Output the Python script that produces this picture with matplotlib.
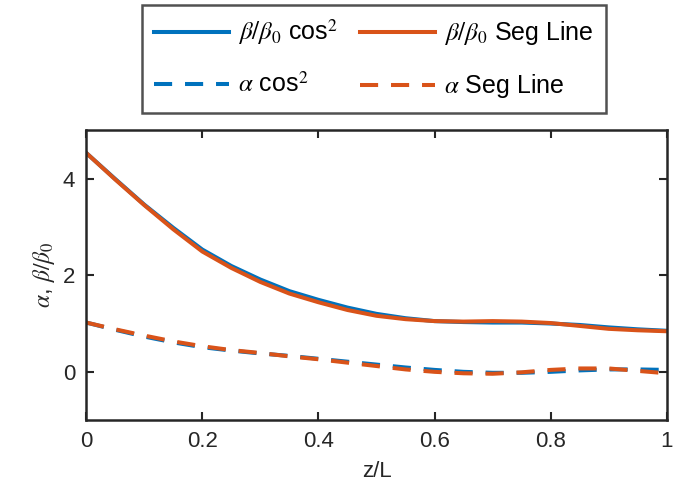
import matplotlib
matplotlib.use("Agg")
import matplotlib.pyplot as plt
import numpy as np

plt.rcParams['font.family'] = ['Liberation Sans', 'DejaVu Sans']
plt.rcParams['mathtext.fontset'] = 'stix'

# values
z = [0.0, 0.05, 0.1, 0.15, 0.2, 0.25, 0.3, 0.35, 0.4, 0.45, 0.5,
     0.55, 0.6, 0.65, 0.7, 0.75, 0.8, 0.85, 0.9, 0.95, 1.0]
beta_cos2 = [4.53, 3.99, 3.46, 2.98, 2.53, 2.19, 1.91, 1.67, 1.49, 1.33, 1.20,
             1.11, 1.05, 1.03, 1.02, 1.02, 1.00, 0.97, 0.92, 0.88, 0.85]
beta_seg = [4.53, 3.98, 3.45, 2.95, 2.49, 2.15, 1.86, 1.62, 1.44, 1.28, 1.16,
            1.09, 1.05, 1.04, 1.05, 1.04, 1.01, 0.95, 0.89, 0.86, 0.84]
alpha_cos2 = [1.02, 0.87, 0.73, 0.61, 0.51, 0.44, 0.38, 0.33, 0.27, 0.21, 0.15,
              0.09, 0.04, 0.00, -0.02, -0.02, 0.00, 0.03, 0.05, 0.05, 0.04]
alpha_seg = [1.02, 0.88, 0.75, 0.63, 0.53, 0.45, 0.39, 0.32, 0.26, 0.19, 0.12,
             0.05, 0.00, -0.03, -0.04, -0.01, 0.04, 0.07, 0.07, 0.02, -0.03]

BLUE = '#0072BD'
ORANGE = '#D95319'
INK = '#262626'

fig = plt.figure(figsize=(6.79, 4.99), dpi=100)
ax = fig.add_axes([0.127, 0.158, 0.855, 0.581])

lw = 2.9
dash = (0, (4.5, 3.2))
l1, = ax.plot(z, beta_cos2, color=BLUE, lw=lw, label=r'$\beta/\beta_0$ cos$^2$')
l2, = ax.plot(z, beta_seg, color=ORANGE, lw=lw, label=r'$\beta/\beta_0$ Seg Line')
l3, = ax.plot(z, alpha_cos2, color=BLUE, lw=lw, ls=dash, label=r'$\alpha$ cos$^2$')
l4, = ax.plot(z, alpha_seg, color=ORANGE, lw=lw, ls=dash, label=r'$\alpha$ Seg Line')

ax.set_xlim(0, 1)
ax.set_ylim(-1, 5)
ax.set_xticks([0, 0.2, 0.4, 0.6, 0.8, 1])
ax.set_xticklabels(['0', '0.2', '0.4', '0.6', '0.8', '1'])
ax.set_yticks([0, 2, 4])
ax.tick_params(direction='in', length=6, width=1.5, labelsize=16, colors=INK,
               top=True, right=True, pad=8)
for s in ax.spines.values():
    s.set_linewidth(1.8)
    s.set_color(INK)

ax.set_xlabel('z/L', fontsize=16, color=INK, labelpad=6)
ax.set_ylabel(r'$\alpha$, $\beta/\beta_0$', fontsize=17, color=INK, labelpad=4)

# column-major fill, so order handles to get the reference's rows
leg = fig.legend([l1, l3, l2, l4], [l.get_label() for l in (l1, l3, l2, l4)],
                 loc='upper center', bbox_to_anchor=(0.551, 0.99), ncol=2,
                 fontsize=18, frameon=True, fancybox=False, edgecolor=INK,
                 handlelength=3.0, columnspacing=0.9, handletextpad=0.35,
                 borderpad=0.5, labelspacing=1.0, borderaxespad=0)
leg.get_frame().set_linewidth(1.8)

fig.savefig('out.png', dpi=100, facecolor='white')
